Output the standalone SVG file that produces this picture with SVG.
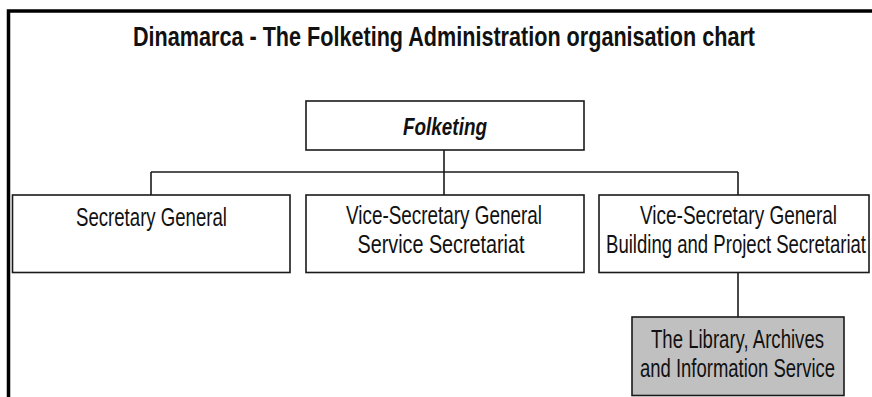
<svg xmlns="http://www.w3.org/2000/svg" width="872" height="397" viewBox="0 0 872 397">
<style>
  .box{fill:#fff;stroke:#1a1a1a;stroke-width:1.6}
  .lib{fill:#c0c0c0;stroke:#1a1a1a;stroke-width:1.6}
  .ln{stroke:#1a1a1a;stroke-width:1.6;fill:none}
  text{font-family:"Liberation Sans Narrow","Liberation Sans",Arial,sans-serif;fill:#111;text-anchor:middle}
  .t{font-size:25px}
</style>
<rect width="872" height="397" fill="#fff"/>
<path d="M8.5 397 V11 H872" fill="none" stroke="#000" stroke-width="3.5"/>
<text x="444" y="46" font-size="27" font-weight="bold" textLength="622" lengthAdjust="spacingAndGlyphs">Dinamarca - The Folketing Administration organisation chart</text>
<g id="connectors">
  <line class="ln" x1="444" y1="150" x2="444" y2="195"/>
  <line class="ln" x1="151" y1="172" x2="738" y2="172"/>
  <line class="ln" x1="151" y1="172" x2="151" y2="195"/>
  <line class="ln" x1="738" y1="172" x2="738" y2="195"/>
  <line class="ln" x1="738" y1="272" x2="738" y2="317"/>
</g>
<g id="folketing">
  <rect class="box" x="306" y="101" width="278" height="49"/>
  <text x="445" y="135" font-size="23" font-weight="bold" font-style="italic" textLength="84" lengthAdjust="spacingAndGlyphs">Folketing</text>
</g>
<g id="secretary-general">
  <rect class="box" x="12.5" y="195" width="277.5" height="77.5"/>
  <text class="t" x="151.5" y="226" textLength="151" lengthAdjust="spacingAndGlyphs">Secretary General</text>
</g>
<g id="vsg-service">
  <rect class="box" x="306" y="195" width="278" height="77.5"/>
  <text class="t" x="444" y="224" textLength="196" lengthAdjust="spacingAndGlyphs">Vice-Secretary General</text>
  <text class="t" x="441" y="253" textLength="167" lengthAdjust="spacingAndGlyphs">Service Secretariat</text>
</g>
<g id="vsg-building">
  <rect class="box" x="599" y="195" width="270" height="77.5"/>
  <text class="t" x="738.5" y="224" textLength="197" lengthAdjust="spacingAndGlyphs">Vice-Secretary General</text>
  <text class="t" x="736" y="253" textLength="260" lengthAdjust="spacingAndGlyphs">Building and Project Secretariat</text>
</g>
<g id="library">
  <rect class="lib" x="632" y="317" width="212" height="78.5"/>
  <text class="t" x="737.5" y="348" textLength="173" lengthAdjust="spacingAndGlyphs">The Library, Archives</text>
  <text class="t" x="737.5" y="377" textLength="195" lengthAdjust="spacingAndGlyphs">and Information Service</text>
</g>
</svg>
